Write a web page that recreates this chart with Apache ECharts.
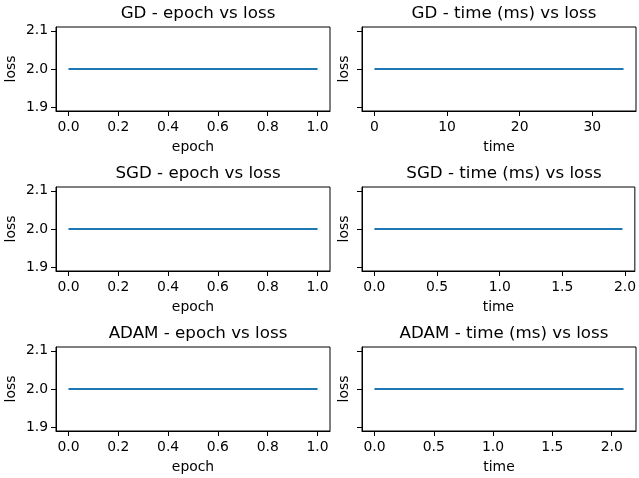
<!DOCTYPE html>
<html>
<head>
<meta charset="utf-8">
<script src="https://cdn.jsdelivr.net/npm/echarts@6/dist/echarts.min.js"></script>
<style>
  html, body { margin: 0; padding: 0; background: #fff; }
  #chart { width: 639px; height: 478px; }
</style>
</head>
<body>
<div id="chart"></div>
<script>
// data
const gdEpoch = [0, 1];
const gdTime = [0, 34.3];
const gdLoss = [2.0, 2.0];
const sgdEpoch = [0, 1];
const sgdTime = [0, 1.98];
const sgdLoss = [2.0, 2.0];
const adamEpoch = [0, 1];
const adamTime = [0, 2.1];
const adamLoss = [2.0, 2.0];

const epochTicks = [0, 0.2, 0.4, 0.6, 0.8, 1.0];
const gdTimeTicks = [0, 10, 20, 30];
const halfTicks = [0, 0.5, 1.0, 1.5, 2.0];
const lossTicks = [1.9, 2.0, 2.1];

const panels = [
  { title: 'GD - epoch vs loss', x: gdEpoch, y: gdLoss, xName: 'epoch', ticks: epochTicks, dec: 1 },
  { title: 'GD - time (ms) vs loss', x: gdTime, y: gdLoss, xName: 'time', ticks: gdTimeTicks, dec: 0 },
  { title: 'SGD - epoch vs loss', x: sgdEpoch, y: sgdLoss, xName: 'epoch', ticks: epochTicks, dec: 1 },
  { title: 'SGD - time (ms) vs loss', x: sgdTime, y: sgdLoss, xName: 'time', ticks: halfTicks, dec: 1 },
  { title: 'ADAM - epoch vs loss', x: adamEpoch, y: adamLoss, xName: 'epoch', ticks: epochTicks, dec: 1 },
  { title: 'ADAM - time (ms) vs loss', x: adamTime, y: adamLoss, xName: 'time', ticks: halfTicks, dec: 1 },
];

const FONT = 'DejaVu Sans';
const colLeft = [56, 362];
const rowTop = [27, 187, 347];
const W = 274, H = 84;

// matplotlib-like 5% margins
function padRange(arr) {
  let lo = Math.min(...arr), hi = Math.max(...arr);
  if (lo === hi) { lo = lo - Math.abs(lo) * 0.05; hi = hi + Math.abs(hi) * 0.05; }
  const m = (hi - lo) * 0.05;
  return [lo - m, hi + m];
}

const grid = [], xAxis = [], yAxis = [], series = [], title = [];
panels.forEach((p, i) => {
  const col = i % 2, row = Math.floor(i / 2);
  const left = colLeft[col], top = rowTop[row];
  grid.push({
    left: left, top: top, width: W, height: H,
    show: true, borderColor: '#000', borderWidth: 1, backgroundColor: 'transparent'
  });
  title.push({
    text: p.title, left: left + W / 2, top: top - 27, textAlign: 'center',
    textStyle: { fontFamily: FONT, fontSize: 16.7, fontWeight: 'normal', color: '#000' }
  });
  const xr = padRange(p.x);
  const yr = padRange(p.y);
  xAxis.push({
    type: 'value', gridIndex: i, min: xr[0], max: xr[1],
    name: p.xName, nameLocation: 'middle', nameGap: 29,
    nameTextStyle: { fontFamily: FONT, fontSize: 13.9, color: '#000' },
    splitLine: { show: false },
    axisLine: { show: true, onZero: false, lineStyle: { color: '#000', width: 1 } },
    axisTick: { show: true, length: 5, lineStyle: { color: '#000' }, customValues: p.ticks },
    axisLabel: {
      show: true, margin: 9, fontFamily: FONT, fontSize: 13.9, color: '#000',
      customValues: p.ticks, formatter: v => Number(v).toFixed(p.dec)
    }
  });
  yAxis.push({
    type: 'value', gridIndex: i, min: yr[0], max: yr[1],
    name: 'loss', nameLocation: 'middle', nameGap: col === 0 ? 38 : 11,
    nameTextStyle: { fontFamily: FONT, fontSize: 13.9, color: '#000' },
    splitLine: { show: false },
    axisLine: { show: true, onZero: false, lineStyle: { color: '#000', width: 1 } },
    axisTick: { show: true, length: 5, lineStyle: { color: '#000' }, customValues: lossTicks },
    axisLabel: {
      show: col === 0, margin: 8, fontFamily: FONT, fontSize: 13.9, color: '#000',
      customValues: lossTicks, formatter: v => Number(v).toFixed(1)
    }
  });
  series.push({
    type: 'line', xAxisIndex: i, yAxisIndex: i,
    data: p.x.map((v, k) => [v, p.y[k]]),
    showSymbol: false, symbol: 'none',
    lineStyle: { color: '#1f77b4', width: 2 },
    animation: false
  });
});

const chart = echarts.init(document.getElementById('chart'));
chart.setOption({
  animation: false,
  backgroundColor: '#fff',
  title, grid, xAxis, yAxis, series
});
window.addEventListener('resize', chart.resize);
</script>
</body>
</html>
